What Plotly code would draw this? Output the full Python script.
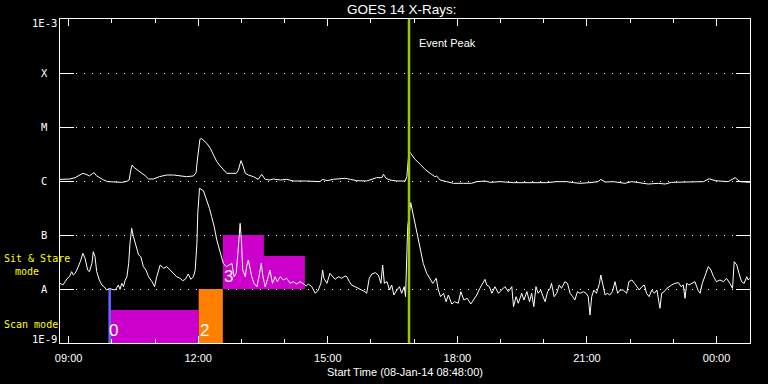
import math
import pandas as pd
import plotly.graph_objects as go

# ---------------- data ----------------
# time in decimal hours since 2014-01-08 00:00, flux as log10(W/m^2)
long_hours = [8.80, 9.035, 9.15, 9.23, 9.33, 9.405, 9.48, 9.55, 9.59, 9.64, 9.71, 9.81, 9.90,
              10.08, 10.23, 10.35, 10.40, 10.44, 10.47, 10.52, 10.59, 10.69, 10.77, 10.85, 10.96,
              11.10, 11.27, 11.43, 11.58, 11.73, 11.89, 11.95, 11.98, 12.01, 12.04, 12.08, 12.20,
              12.28, 12.35, 12.43, 12.51, 12.58, 12.66, 12.78, 12.88, 12.93, 12.99, 13.03, 13.09,
              13.16, 13.28, 13.39, 13.47, 13.55, 13.66, 13.74, 13.90, 14.05, 14.20, 14.51, 14.82,
              14.88, 14.98, 15.13, 15.40, 15.52, 15.67, 15.90, 16.02, 16.13, 16.25, 16.29, 16.35,
              16.44, 16.60, 16.79, 16.83, 16.85, 16.88, 16.92, 17.02, 17.14, 17.25, 17.37, 17.48,
              17.52, 17.60, 17.75, 17.91, 18.14, 18.33, 18.45, 18.64, 18.76, 18.99, 19.30, 19.61,
              19.83, 20.07, 20.30, 20.53, 20.69, 20.84, 21.07, 21.26, 21.32, 21.42, 21.61, 21.88,
              22.04, 22.19, 22.42, 22.65, 22.81, 22.96, 23.35, 23.70, 23.83, 23.97, 24.27, 24.43,
              24.54, 24.77]
long_log10 = [-5.970, -5.963, -5.938, -5.907, -5.858, -5.877, -5.907, -5.864, -5.846, -5.901, -5.938,
              -5.981, -6.012, -6.025, -6.025, -6.006, -5.981, -5.796, -5.704, -5.753, -5.796, -5.840,
              -5.901, -5.963, -5.963, -5.920, -5.889, -5.889, -5.907, -5.920, -5.907, -5.846, -5.611,
              -5.364, -5.225, -5.215, -5.302, -5.395, -5.519, -5.642, -5.722, -5.796, -5.858, -5.858,
              -5.858, -5.796, -5.623, -5.704, -5.858, -5.889, -5.920, -5.969, -5.877, -5.969, -5.981,
              -5.963, -5.981, -5.969, -6.000, -6.000, -6.012, -5.969, -5.994, -5.969, -5.950, -5.969,
              -5.994, -6.000, -5.963, -5.938, -5.938, -5.877, -5.951, -5.981, -6.000, -6.000, -5.920,
              -5.735, -5.450, -5.488, -5.599, -5.691, -5.784, -5.858, -5.920, -5.907, -5.981, -6.012,
              -6.043, -6.043, -6.043, -6.012, -6.000, -6.025, -6.012, -6.031, -6.031, -6.019, -6.031,
              -6.012, -6.012, -6.031, -6.043, -6.031, -6.012, -5.969, -6.019, -6.012, -6.043, -6.012,
              -6.031, -6.056, -6.043, -6.056, -6.025, -6.025, -6.012, -5.957, -5.994, -6.012, -5.938,
              -6.012, -6.025]

short_hours = [8.80, 8.865, 8.92, 8.97, 9.02, 9.07, 9.11, 9.15, 9.19, 9.23, 9.27, 9.33, 9.38, 9.44,
               9.48, 9.54, 9.57, 9.61, 9.65, 9.71, 9.77, 9.82, 9.88, 9.95, 10.00, 10.08, 10.15,
               10.19, 10.23, 10.27, 10.31, 10.35, 10.39, 10.42, 10.46, 10.50, 10.56, 10.62, 10.67,
               10.73, 10.79, 10.85, 10.93, 10.99, 11.04, 11.08, 11.12, 11.20, 11.27, 11.35, 11.43,
               11.50, 11.58, 11.64, 11.70, 11.77, 11.83, 11.89, 11.93, 11.97, 11.99, 12.03, 12.12,
               12.16, 12.20, 12.26, 12.31, 12.37, 12.43, 12.49, 12.55, 12.58, 12.65, 12.70, 12.78,
               12.83, 12.88, 12.93, 12.97, 13.00, 13.03, 13.09, 13.12, 13.16, 13.20, 13.24, 13.29,
               13.36, 13.42, 13.46, 13.50, 13.55, 13.60, 13.66, 13.72, 13.78, 13.83, 13.90, 13.97,
               14.05, 14.13, 14.20, 14.28, 14.36, 14.44, 14.50, 14.55, 14.63, 14.71, 14.78, 14.84,
               14.88, 14.91, 14.98, 15.05, 15.11, 15.17, 15.25, 15.32, 15.40, 15.44, 15.50, 15.55,
               15.63, 15.71, 15.79, 15.86, 15.90, 15.96, 16.02, 16.10, 16.17, 16.23, 16.27, 16.31,
               16.37, 16.43, 16.48, 16.53, 16.60, 16.66, 16.71, 16.77, 16.80, 16.83, 16.85, 16.92,
               16.97, 17.02, 17.08, 17.14, 17.21, 17.29, 17.37, 17.43, 17.51, 17.56, 17.61, 17.68,
               17.74, 17.79, 17.87, 17.94, 18.02, 18.08, 18.15, 18.23, 18.31, 18.37, 18.45, 18.52,
               18.59, 18.64, 18.68, 18.74, 18.80, 18.87, 18.95, 19.03, 19.10, 19.18, 19.26, 19.30,
               19.36, 19.41, 19.49, 19.54, 19.61, 19.67, 19.72, 19.77, 19.82, 19.87, 19.93, 19.97,
               20.03, 20.09, 20.15, 20.18, 20.24, 20.30, 20.36, 20.41, 20.49, 20.55, 20.61, 20.67,
               20.72, 20.78, 20.84, 20.92, 20.98, 21.03, 21.07, 21.11, 21.16, 21.22, 21.29, 21.32,
               21.37, 21.42, 21.47, 21.53, 21.59, 21.65, 21.71, 21.77, 21.84, 21.92, 21.97, 22.04,
               22.10, 22.15, 22.21, 22.27, 22.33, 22.38, 22.44, 22.50, 22.56, 22.62, 22.65, 22.69,
               22.73, 22.79, 22.85, 22.90, 22.96, 23.04, 23.12, 23.18, 23.23, 23.27, 23.31, 23.36,
               23.42, 23.50, 23.57, 23.62, 23.67, 23.72, 23.77, 23.81, 23.87, 23.93, 24.00, 24.08,
               24.16, 24.23, 24.31, 24.37, 24.41, 24.47, 24.52, 24.58, 24.64, 24.70, 24.73, 24.77]
short_log10 = [-7.895, -7.926, -7.864, -7.802, -7.772, -7.679, -7.741, -7.710, -7.648, -7.586, -7.494,
               -7.340, -7.432, -7.648, -7.679, -7.525, -7.309, -7.401, -7.679, -7.833, -7.926, -7.957,
               -8.019, -7.988, -8.006, -8.019, -7.926, -8.006, -7.895, -7.957, -7.833, -7.772, -7.525,
               -7.154, -6.877, -7.031, -7.216, -7.370, -7.401, -7.586, -7.648, -7.772, -7.864, -7.957,
               -7.772, -7.648, -7.556, -7.617, -7.586, -7.648, -7.710, -7.772, -7.802, -7.846, -7.821,
               -7.722, -7.821, -7.772, -7.648, -7.154, -6.599, -6.136, -6.180, -6.270, -6.383, -6.506,
               -6.660, -6.846, -7.093, -7.278, -7.432, -7.525, -7.586, -7.556, -7.525, -7.772, -7.710,
               -7.216, -6.784, -7.093, -7.648, -7.772, -7.586, -7.463, -7.648, -7.772, -7.895, -7.957,
               -7.710, -7.525, -7.772, -7.957, -7.833, -7.648, -7.895, -7.772, -7.864, -7.772, -7.833,
               -7.802, -7.895, -7.864, -7.907, -7.864, -7.907, -7.944, -7.907, -7.957, -8.080, -8.019,
               -7.895, -7.648, -7.802, -7.895, -7.710, -7.772, -7.821, -7.772, -7.802, -7.759, -7.772,
               -7.864, -7.926, -7.957, -7.988, -8.019, -8.049, -8.080, -7.802, -7.722, -7.698, -7.741,
               -7.895, -7.556, -7.895, -7.864, -8.019, -7.926, -8.111, -8.019, -7.957, -8.080, -7.957,
               -8.142, -7.494, -6.846, -6.401, -6.599, -6.815, -7.031, -7.278, -7.525, -7.710, -7.833,
               -7.895, -7.802, -8.019, -8.142, -8.080, -8.235, -8.111, -8.278, -8.235, -8.265, -8.049,
               -8.204, -8.173, -8.278, -8.204, -8.111, -7.988, -7.895, -7.821, -7.926, -7.957, -8.080,
               -7.957, -8.080, -8.006, -7.957, -8.049, -7.957, -8.327, -8.142, -8.265, -8.080, -8.204,
               -8.049, -8.235, -8.080, -8.327, -7.957, -8.080, -8.019, -8.111, -8.235, -8.049, -7.988,
               -7.895, -8.142, -8.080, -7.926, -7.988, -7.864, -7.895, -8.080, -8.142, -8.204, -8.049,
               -8.080, -8.049, -8.080, -8.142, -8.481, -8.142, -8.019, -8.080, -7.895, -7.741, -7.957,
               -8.111, -8.080, -8.111, -8.049, -7.864, -8.080, -8.019, -8.019, -8.080, -7.864, -7.833,
               -7.895, -7.957, -8.019, -7.957, -7.926, -8.080, -8.142, -8.019, -8.080, -8.019, -8.142,
               -8.358, -8.080, -8.049, -7.988, -7.957, -7.926, -7.895, -7.883, -7.957, -7.926, -8.173,
               -7.895, -7.926, -7.895, -7.864, -8.019, -8.080, -7.895, -7.772, -7.679, -7.586, -7.648,
               -7.772, -7.864, -7.833, -7.864, -7.802, -7.895, -7.988, -7.494, -7.556, -7.710, -7.864,
               -7.895, -7.772, -7.833, -7.802]

# observing-mode blocks (hours since 2014-01-08 00:00, flux W/m^2)
mode_start = [9.92, 9.98, 12.01, 12.57, 13.52]
mode_end = [9.98, 12.01, 12.57, 13.52, 14.47]
mode_bottom = [1e-9, 1e-9, 1e-9, 1e-8, 1e-8]
mode_top = [1e-8, 4.1e-9, 1e-8, 1e-7, 4.1e-8]
mode_labels = ["0", "", "2", "3", ""]
mode_colors = ["#6464ff", "#cc00cc", "#ff8000", "#cc00cc", "#cc00cc"]

event_peak_hour = 16.88

class_ticks = [1e-9, 1e-8, 1e-7, 1e-6, 1e-5, 1e-4, 1e-3]
class_labels = ["1E-9", "A", "B", "C", "M", "X", "1E-3"]

x_start_hour = 8.80
x_end_hour = 24.775

# ---------------- figure ----------------
DAY0 = pd.Timestamp("2014-01-08")


def to_time(hours):
    return [DAY0 + pd.Timedelta(hours=h) for h in hours]


FONT = "Liberation Sans"
MONO = "DejaVu Sans Mono"

fig = go.Figure()

# mode blocks
for s, e, b, t, c in zip(mode_start, mode_end, mode_bottom, mode_top, mode_colors):
    xs = to_time([s, e, e, s, s])
    fig.add_trace(go.Scatter(x=xs, y=[b, b, t, t, b], mode="lines", fill="toself",
                             fillcolor=c, line=dict(width=0, color=c),
                             hoverinfo="skip", showlegend=False))

fig.add_trace(go.Scatter(x=to_time(long_hours), y=[10 ** v for v in long_log10], mode="lines",
                         line=dict(color="white", width=1), name="1.0-8.0 A", showlegend=False))
fig.add_trace(go.Scatter(x=to_time(short_hours), y=[10 ** v for v in short_log10], mode="lines",
                         line=dict(color="white", width=1), name="0.5-4.0 A", showlegend=False))

# event peak line
fig.add_trace(go.Scatter(x=to_time([event_peak_hour, event_peak_hour]), y=[1e-9, 1e-3],
                         mode="lines", line=dict(color="#99cc00", width=2.5),
                         hoverinfo="skip", showlegend=False))

annotations = []
# y class labels (centered, as in the reference)
for v, lab in zip(class_ticks, class_labels):
    shift = 0
    if lab == "1E-3":
        shift = -4
    elif lab == "1E-9":
        shift = 4
    annotations.append(dict(x=-0.0225, xref="paper", y=math.log10(v), yref="y", text=lab,
                            showarrow=False, xanchor="center", yanchor="middle", yshift=shift,
                            font=dict(family=MONO, size=10.5, color="white")))

# mode labels
for s, b, t, lab in zip(mode_start, mode_bottom, mode_top, mode_labels):
    if not lab:
        continue
    annotations.append(dict(x=DAY0 + pd.Timedelta(hours=s), xref="x", y=math.log10(b), yref="y",
                            text=lab, showarrow=False, xanchor="left", yanchor="bottom",
                            xshift=-1, yshift=1,
                            font=dict(family=FONT, size=17, color="white")))

annotations += [
    dict(x=-0.0841, xref="paper", y=0.2593, yref="paper", text="Sit & Stare", showarrow=False,
         xanchor="left", yanchor="middle", font=dict(family=MONO, size=10, color="#ffff00")),
    dict(x=-0.0681, xref="paper", y=0.2222, yref="paper", text="mode", showarrow=False,
         xanchor="left", yanchor="middle", font=dict(family=MONO, size=10, color="#ffff00")),
    dict(x=-0.0841, xref="paper", y=0.0586, yref="paper", text="Scan mode", showarrow=False,
         xanchor="left", yanchor="middle", font=dict(family=MONO, size=10, color="#ffff00")),
    dict(x=DAY0 + pd.Timedelta(hours=event_peak_hour), xref="x", y=0.9259, yref="paper",
         text="Event Peak", showarrow=False, xanchor="left", yanchor="middle", xshift=8,
         font=dict(family=FONT, size=11, color="white")),
]

fig.update_layout(
    width=768, height=384,
    paper_bgcolor="black", plot_bgcolor="black",
    margin=dict(l=60, r=18, t=19, b=41, autoexpand=False),
    showlegend=False,
    title=dict(text="GOES 14 X-Rays:", x=0.4952, xref="paper", xanchor="center",
               y=0.975, yref="container", yanchor="middle",
               font=dict(family=FONT, size=13.5, color="white")),
    annotations=annotations,
    font=dict(family=FONT, color="white", size=11),
)

fig.update_xaxes(
    type="date", automargin=False,
    range=[DAY0 + pd.Timedelta(hours=x_start_hour), DAY0 + pd.Timedelta(hours=x_end_hour)],
    showline=True, linecolor="white", linewidth=1, mirror="ticks",
    ticks="inside", ticklen=7, tickwidth=1, tickcolor="white",
    tick0="2014-01-08 09:00", dtick=3 * 3600 * 1000, tickformat="%H:%M",
    tickfont=dict(family=FONT, size=11, color="white"),
    ticklabelstandoff=5,
    minor=dict(dtick=3600 * 1000, ticks="inside", ticklen=4, tickcolor="white", showgrid=False),
    showgrid=False, zeroline=False,
    title=dict(text="Start Time (08-Jan-14 08:48:00)", standoff=5,
               font=dict(family=FONT, size=11, color="white")),
)

fig.update_yaxes(
    type="log", range=[-9, -3], automargin=False,
    showline=True, linecolor="white", linewidth=1, mirror="ticks",
    tickvals=class_ticks[1:-1], ticks="inside", ticklen=14, tickwidth=1, tickcolor="white",
    showticklabels=False,
    showgrid=True, gridcolor="white", gridwidth=1, griddash="1px,7px",
    zeroline=False,
)

fig.write_html(
    "out.html",
    config={"displayModeBar": False},
    post_script="document.body.style.margin='0';document.body.style.background='black';",
)
